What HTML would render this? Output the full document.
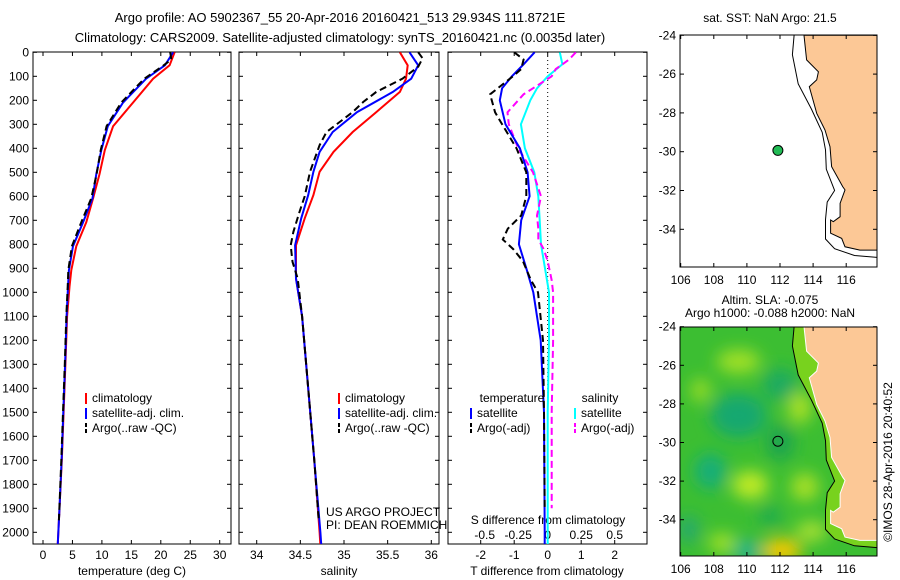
<!DOCTYPE html>
<html><head><meta charset="utf-8"><style>
html,body{margin:0;padding:0;background:#fff;}
svg{display:block;font-family:"Liberation Sans",Arial,sans-serif;}
</style></head><body>
<svg id="fig" width="900" height="580" viewBox="0 0 900 580" xmlns="http://www.w3.org/2000/svg">
<defs>
<clipPath id="c1"><rect x="33" y="52" width="198" height="492"/></clipPath>
<clipPath id="c2"><rect x="239" y="52" width="200" height="492"/></clipPath>
<clipPath id="c3"><rect x="448" y="52" width="199" height="492"/></clipPath>
<clipPath id="cm1"><rect x="680" y="35" width="197" height="232"/></clipPath>
<clipPath id="cm2"><rect x="680" y="327" width="197" height="229"/></clipPath>
<filter id="blur" x="-50%" y="-50%" width="200%" height="200%"><feGaussianBlur stdDeviation="8"/></filter>
</defs>
<text x="340" y="22" font-size="13" text-anchor="middle">Argo profile: AO 5902367_55 20-Apr-2016 20160421_513 29.934S 111.8721E</text>
<text x="340" y="42" font-size="13" text-anchor="middle">Climatology: CARS2009. Satellite-adjusted climatology: synTS_20160421.nc (0.0035d later)</text>
<g id="p1"></g>
<g id="p2"></g>
<g id="p3"></g>
<g id="m1"></g>
<g id="m2"></g>
</svg>
<script>
// ---- data ----
const depthTicks = [0,100,200,300,400,500,600,700,800,900,1000,1100,1200,1300,1400,1500,1600,1700,1800,1900,2000];
const tempTicks = [0,5,10,15,20,25,30];
const salTicks = [34,34.5,35,35.5,36];
const salTickLabels = ["34","34.5","35","35.5","36"];
const tdTicks = [-2,-1,0,1,2];
const sdTicks = [-0.5,-0.25,0,0.25,0.5];
const sdTickLabels = ["-0.5","-0.25","0","0.25","0.5"];

const tempDepth = [0,54,110,209,308,408,508,608,708,808,908,977,1100,1300,1500,1700,1900,2055];
const tempClim = [22.35,21.5,18.7,15.3,11.9,10.5,9.6,8.5,7.35,5.65,4.8,4.5,4.1,3.8,3.5,3.2,2.8,2.5];
const tempSat  = [22.1,20.7,17.5,13.6,11.0,9.9,9.05,8.4,6.8,5.1,4.4,4.25,4.0,3.75,3.45,3.15,2.8,2.5];
const tempArgoDepth = [0,30,54,110,209,308,408,508,608,708,808,908,977,1100,1300,1500,1700,1950];
const tempArgo = [21.6,21.8,20.5,17.2,13.3,10.8,9.8,9.1,8.2,6.5,4.9,4.3,4.2,3.95,3.7,3.4,3.1,2.7];

const salDepth = [0,54,110,165,249,332,415,498,595,692,804,943,1100,1400,1700,2000,2055];
const salClim = [35.64,35.73,35.71,35.64,35.37,35.1,34.88,34.72,34.65,34.55,34.45,34.45,34.52,34.59,34.66,34.72,34.73];
const salSat  = [35.75,35.85,35.77,35.56,35.15,34.87,34.72,34.65,34.59,34.51,34.44,34.45,34.52,34.59,34.66,34.73,34.74];
const salArgoDepth = [0,25,60,110,165,207,249,332,387,498,600,665,748,804,873,943,1100,1400,1700,1950];
const salArgo = [35.85,35.9,35.85,35.67,35.37,35.22,35.1,34.8,34.72,34.61,34.55,34.49,34.42,34.39,34.41,34.47,34.52,34.59,34.66,34.71];

const diffDepth = [0,50,100,150,200,300,400,500,600,700,800,900,1000,1200,1500,2000,2055];
const tdSat  = [-0.39,-0.72,-1.07,-1.36,-1.43,-1.26,-0.83,-0.6,-0.54,-0.79,-0.86,-0.64,-0.43,-0.21,-0.11,-0.09,-0.09];
const sdSat  = [0.09,0.11,0.0,-0.08,-0.13,-0.2,-0.17,-0.1,-0.07,-0.06,-0.05,-0.02,0.01,0.01,0.0,0.0,0.0];
const argoDiffDepth = [0,30,70,100,175,250,300,400,500,600,680,735,780,820,870,950,1000,1200,1500,1900];
const tdArgo = [-1.0,-0.72,-0.79,-1.04,-1.72,-1.57,-1.36,-0.93,-0.64,-0.64,-0.79,-1.19,-1.34,-1.03,-0.74,-0.5,-0.29,-0.14,-0.11,-0.09];
const sdArgo = [0.21,0.16,0.06,0.03,-0.18,-0.3,-0.29,-0.22,-0.11,-0.05,-0.08,-0.07,-0.07,-0.03,0.0,0.03,0.04,0.04,0.03,0.03];

const mapLonTicks = [106,108,110,112,114,116];
const mapLatTicks = [-24,-26,-28,-30,-32,-34];
const floatLon = 111.8721, floatLat = -29.934;
const coastLon = [113.45,113.61,114.32,114.22,113.77,114.11,114.22,114.72,115.02,115.12,115.79,115.93,115.63,115.63,115.22,115.06,115.06,115.73,115.93,116.83,117.9,117.9];
const coastLat = [-24,-25.27,-25.88,-26.3,-26.65,-27.68,-28.02,-28.88,-29.74,-30.77,-31.8,-31.97,-32.66,-33.35,-33.61,-33.52,-34.2,-34.47,-34.9,-35.07,-35.07,-24];
const isoLon = [112.85,112.75,113.1,113.9,114.55,114.75,114.8,115.3,114.85,114.75,114.75,115.3,116.5,117.9];
const isoLat = [-24,-25.0,-26.5,-27.8,-29.0,-29.9,-30.9,-32.0,-32.6,-33.5,-34.5,-35.0,-35.35,-35.45];

// ---- helpers ----
const NS = "http://www.w3.org/2000/svg";
function mk(parent, tag, attrs, txt){ const e=document.createElementNS(NS,tag); for(const k in attrs) e.setAttribute(k,attrs[k]); if(txt!==undefined) e.textContent=txt; parent.appendChild(e); return e; }
const yD = d => 52.3 + d*0.24;
const xT = t => 43 + t*5.89;
const xS = s => 256.7 + (s-34)*87.3;
const xTD = v => 547.7 + v*33.5;
const xSD = v => 547.7 + v*134;
const mx = lon => 680.7 + (lon-106)*16.55;
const my1 = lat => 35.3 + (-24-lat)*19.4;
const my2 = lat => 326.7 + (-24-lat)*19.3;

function line(g, xs, ds, xf, color, dash, clip, name){
  const pts = xs.map((v,i)=> xf(v).toFixed(1)+","+yD(ds[i]).toFixed(1)).join(" ");
  const p = mk(g,"polyline",{points:pts,fill:"none",stroke:color,"stroke-width":2,"clip-path":"url(#"+clip+")"});
  if(dash) p.setAttribute("stroke-dasharray",dash);
  
  
}
function frame(g, x0, w, labels){
  const f = mk(g,"rect",{x:x0,y:52,width:w,height:492,fill:"none",stroke:"#000","stroke-width":1});
  
  
  depthTicks.forEach(d=>{
    const y=yD(d);
    mk(g,"line",{x1:x0,y1:y,x2:x0+4,y2:y,stroke:"#000"});
    mk(g,"line",{x1:x0+w,y1:y,x2:x0+w-4,y2:y,stroke:"#000"});
    if(labels){
      const t = mk(g,"text",{x:x0-4,y:y+4,"font-size":12,"text-anchor":"end"},String(d));
      
      
    }
  });
}
function xticks(g, vals, labs, xf, y){
  vals.forEach((v,i)=>{
    const x=xf(v);
    mk(g,"line",{x1:x,y1:52,x2:x,y2:56,stroke:"#000"});
    mk(g,"line",{x1:x,y1:544,x2:x,y2:540,stroke:"#000"});
    const t = mk(g,"text",{x:x,y:y,"font-size":12,"text-anchor":"middle"},labs[i]);
    
    
  });
}
function legend(g, x, y, color, dash, label){
  const l = mk(g,"line",{x1:x,y1:y-9,x2:x,y2:y+2,stroke:color,"stroke-width":2});
  if(dash) l.setAttribute("stroke-dasharray",dash);
  
  
  const t = mk(g,"text",{x:x+6,y:y,"font-size":12},label);
  
  
}
function txt(g, x, y, s, name, anchor){
  const t = mk(g,"text",{x:x,y:y,"font-size":12,"text-anchor":anchor||"middle"},s);
  
  
}

// ---- panel 1: temperature ----
const p1=document.getElementById("p1");
frame(p1,33,198,true);
xticks(p1,tempTicks,tempTicks.map(String),xT,559);
txt(p1,132,575,"temperature (deg C)","x-axis-title-temperature");
line(p1,tempClim,tempDepth,xT,"#ff0000",null,"c1","temp-climatology-line");
line(p1,tempSat,tempDepth,xT,"#0000ff",null,"c1","temp-satellite-line");
line(p1,tempArgo,tempArgoDepth,xT,"#000","7,4","c1","temp-argo-line");
legend(p1,86,402,"#ff0000",null,"climatology");
legend(p1,86,417,"#0000ff",null,"satellite-adj. clim.");
legend(p1,86,432,"#000","4,2","Argo(..raw -QC)");

// ---- panel 2: salinity ----
const p2=document.getElementById("p2");
frame(p2,239,200,false);
xticks(p2,salTicks,salTickLabels,xS,559);
txt(p2,339,575,"salinity","x-axis-title-salinity");
line(p2,salClim,salDepth,xS,"#ff0000",null,"c2","sal-climatology-line");
line(p2,salSat,salDepth,xS,"#0000ff",null,"c2","sal-satellite-line");
line(p2,salArgo,salArgoDepth,xS,"#000","7,4","c2","sal-argo-line");
legend(p2,339,402,"#ff0000",null,"climatology");
legend(p2,339,417,"#0000ff",null,"satellite-adj. clim.");
legend(p2,339,432,"#000","4,2","Argo(..raw -QC)");
txt(p2,326,516,"US ARGO PROJECT","project-credit","start");
txt(p2,326,529,"PI: DEAN ROEMMICH","pi-credit","start");

// ---- panel 3: differences ----
const p3=document.getElementById("p3");
frame(p3,448,199,false);
xticks(p3,tdTicks,tdTicks.map(String),xTD,559);
txt(p3,547,575,"T difference from climatology","x-axis-title-tdiff");
txt(p3,548,524,"S difference from climatology","x-axis-title-sdiff");
sdTicks.forEach((v,i)=>{ const t=mk(p3,"text",{x:xSD(v)+(v<0?4:0),y:539,"font-size":12,"text-anchor":"middle"},sdTickLabels[i]);
    });
const zl = mk(p3,"line",{x1:xTD(0),y1:52,x2:xTD(0),y2:544,stroke:"#000","stroke-dasharray":"1,3"});
 
line(p3,sdSat,diffDepth,xSD,"#00ffff",null,"c3","sdiff-satellite-line");
line(p3,sdArgo,argoDiffDepth,xSD,"#ff00ff","7,4","c3","sdiff-argo-line");
line(p3,tdSat,diffDepth,xTD,"#0000ff",null,"c3","tdiff-satellite-line");
line(p3,tdArgo,argoDiffDepth,xTD,"#000","7,4","c3","tdiff-argo-line");
txt(p3,512,402,"temperature","legend-temperature-header");
txt(p3,600,402,"salinity","legend-salinity-header");
legend(p3,471,417,"#0000ff",null,"satellite");
legend(p3,575,417,"#00ffff",null,"satellite");
legend(p3,471,432,"#000","4,2","Argo(-adj)");
legend(p3,575,432,"#ff00ff","4,2","Argo(-adj)");

// ---- maps ----
function mapAxes(g, my, top, bottom){
  const f = mk(g,"rect",{x:680,y:top,width:197,height:bottom-top,fill:"none",stroke:"#000"});
   
  mapLonTicks.forEach(l=>{ const x=mx(l);
    mk(g,"line",{x1:x,y1:top,x2:x,y2:top+4,stroke:"#000"});
    mk(g,"line",{x1:x,y1:bottom,x2:x,y2:bottom-4,stroke:"#000"});
    const t=mk(g,"text",{x:x,y:bottom+17,"font-size":12,"text-anchor":"middle"},String(l));
      });
  mapLatTicks.forEach(l=>{ const y=my(l);
    mk(g,"line",{x1:680,y1:y,x2:684,y2:y,stroke:"#000"});
    mk(g,"line",{x1:877,y1:y,x2:873,y2:y,stroke:"#000"});
    const t=mk(g,"text",{x:676,y:y+4,"font-size":12,"text-anchor":"end"},String(l));
      });
}
function poly(g, lons, lats, my, attrs, name, tag){
  const pts = lons.map((l,i)=>mx(l).toFixed(1)+","+my(lats[i]).toFixed(1)).join(" ");
  const p = mk(g,tag||"polyline",Object.assign({points:pts},attrs));
  
  
  return p;
}
const m1=document.getElementById("m1");
const mg1 = mk(m1,"g",{"clip-path":"url(#cm1)"});
poly(mg1,coastLon,coastLat,my1,{fill:"#fcc896",stroke:"#000","stroke-width":1},"land","polygon");
poly(mg1,isoLon,isoLat,my1,{fill:"none",stroke:"#000","stroke-width":1},"isobath");
const fm1 = mk(m1,"circle",{cx:mx(floatLon),cy:my1(floatLat),r:5,fill:"#22bb55",stroke:"#000"});
 
mapAxes(m1,my1,35,267);
txt(m1,770,22,"sat. SST: NaN Argo: 21.5","sst-map-title");

const m2=document.getElementById("m2");
const mg2 = mk(m2,"g",{"clip-path":"url(#cm2)"});
mk(mg2,"rect",{x:680,y:327,width:197,height:229,fill:"#3cbe32"});
const blobs = mk(mg2,"g",{filter:"url(#blur)"});
[[109.5,-28.6,28,22,"#18a870"],[112,-27,18,16,"#1eaa60"],[107.8,-31.5,16,18,"#18ae78"],[110,-35.6,14,10,"#18b090"],[106.5,-34.5,10,14,"#28a870"],
 [109.5,-25.8,22,12,"#a0e028"],[113.2,-28.2,12,16,"#a8e028"],[110.2,-32.2,18,14,"#c0ea28"],[112.1,-35.6,20,12,"#f8c800"],[113.5,-32.3,14,14,"#a8e028"],
 [107.2,-27.3,10,12,"#96dc28"],[108.5,-35.2,14,10,"#a0e028"],[113.9,-34.6,16,10,"#a8e030"],[111.4,-33.8,12,10,"#22aa50"],[112,-30,14,18,"#1ea450"]]
.forEach(b=>{ const e=mk(blobs,"ellipse",{cx:mx(b[0]),cy:my2(b[1]),rx:b[2],ry:b[3],fill:b[4]});
    });
const shelfL = isoLon.concat(coastLon.slice().reverse()), shelfLat = isoLat.concat(coastLat.slice().reverse());
poly(mg2,shelfL,shelfLat,my2,{fill:"#78d21e",stroke:"none"},"shelf-band","polygon");
poly(mg2,isoLon,isoLat,my2,{fill:"none",stroke:"#000","stroke-width":1},"isobath-sla");
poly(mg2,coastLon,coastLat,my2,{fill:"#fcc896",stroke:"#fff","stroke-width":1},"land-sla","polygon");
const fm2 = mk(m2,"circle",{cx:mx(floatLon),cy:my2(floatLat),r:5,fill:"none",stroke:"#000"});
 
mapAxes(m2,my2,327,556);
txt(m2,770,304,"Altim. SLA: -0.075","sla-title");
txt(m2,770,317,"Argo h1000: -0.088 h2000: NaN","argo-height-title");
const cr = mk(m2,"text",{x:0,y:0,"font-size":12,"text-anchor":"middle",transform:"translate(892,462) rotate(-90)"},"©IMOS 28-Apr-2016 20:40:52");
 
</script>
</body></html>
